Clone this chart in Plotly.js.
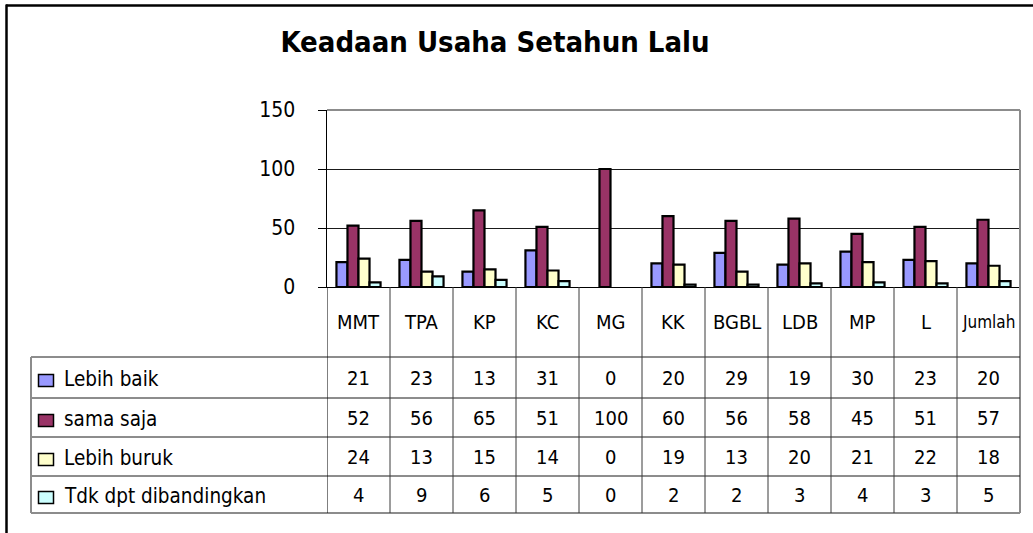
<!DOCTYPE html>
<html>
<head>
<meta charset="utf-8">
<script src="https://cdn.plot.ly/plotly-3.0.1.min.js"></script>
<style>
html,body{margin:0;padding:0;background:#fff;}
#chart{width:1033px;height:533px;}
</style>
</head>
<body>
<div id="chart"></div>
<script>
const categories = ['MMT','TPA','KP','KC','MG','KK','BGBL','LDB','MP','L','Jumlah'];
const lebihBaik = [21,23,13,31,0,20,29,19,30,23,20];
const samaSaja = [52,56,65,51,100,60,56,58,45,51,57];
const lebihBuruk = [24,13,15,14,0,19,13,20,21,22,18];
const tdkDpt = [4,9,6,5,0,2,2,3,4,3,5];
const seriesNames = ['Lebih baik','sama saja','Lebih buruk','Tdk dpt dibandingkan'];
const seriesValues = [lebihBaik, samaSaja, lebihBuruk, tdkDpt];
const colors = ['#9999FF','#993366','#FFFFCC','#CCFFFF'];
const yTickVals = [0,50,100,150];
const titleText = 'Keadaan Usaha Setahun Lalu';

const W = 1033, H = 533;
const FONT = '"DejaVu Sans Condensed", "DejaVu Sans", sans-serif';
const px = v => v / W;
const py = v => 1 - v / H;

const plotL = 327, plotR = 1020, plotT = 110, plotB = 287;
const tableB = 513, legendL = 31;
const rowLines = [357, 398, 437, 476];
const rowCenters = [377.5, 417.5, 456.5, 494.5];
const headerCenter = 322;

const traces = seriesValues.map((vals, k) => ({
  type: 'bar',
  x: categories,
  y: vals,
  name: seriesNames[k],
  marker: {color: colors[k], line: {color: '#000', width: vals.map(v => v === 0 ? 0 : 2.2)}},
  hoverinfo: 'x+y+name'
}));

const shapes = [];
const annotations = [];

// outer frame (top and left edges visible)
shapes.push({type:'line', xref:'paper', yref:'paper', x0:px(6), x1:px(1040), y0:py(5.5), y1:py(5.5), line:{color:'#000', width:2.5}});
shapes.push({type:'line', xref:'paper', yref:'paper', x0:px(6.5), x1:px(6.5), y0:py(4.5), y1:py(540), line:{color:'#000', width:2.5}});

// plot area gray top and right border
shapes.push({type:'line', xref:'paper', yref:'paper', x0:px(plotL), x1:px(plotR), y0:py(plotT), y1:py(plotT), line:{color:'#8c8c8c', width:2}, layer:'above'});
shapes.push({type:'line', xref:'paper', yref:'paper', x0:px(plotR), x1:px(plotR), y0:py(plotT), y1:py(tableB), line:{color:'#8c8c8c', width:2}, layer:'above'});

// table horizontal lines
rowLines.forEach(y => {
  shapes.push({type:'line', xref:'paper', yref:'paper', x0:px(legendL), x1:px(plotR), y0:py(y), y1:py(y), line:{color:'#1a1a1a', width:1}});
});
// table bottom and left borders
shapes.push({type:'line', xref:'paper', yref:'paper', x0:px(legendL), x1:px(plotR), y0:py(tableB), y1:py(tableB), line:{color:'#8c8c8c', width:2}});
shapes.push({type:'line', xref:'paper', yref:'paper', x0:px(legendL), x1:px(legendL), y0:py(rowLines[0]), y1:py(tableB), line:{color:'#8c8c8c', width:2}});

// column separators
for (let i = 0; i < categories.length; i++) {
  shapes.push({type:'line', xref:'x', yref:'paper', x0:i-0.5, x1:i-0.5, y0:py(plotB), y1:py(tableB),
    line:{color: i === 0 ? '#000' : '#3a3a3a', width:1}});
}

// header labels & values
categories.forEach((c, i) => {
  annotations.push({text:c, xref:'x', x:i, yref:'paper', y:py(headerCenter), showarrow:false,
    xanchor:'center', yanchor:'middle', font:{family:FONT, size: c.length > 4 ? 17 : 20, color:'#000'}});
  seriesValues.forEach((vals, k) => {
    annotations.push({text:String(vals[i]), xref:'x', x:i, yref:'paper', y:py(rowCenters[k]), showarrow:false,
      xanchor:'center', yanchor:'middle', font:{family:FONT, size:20, color:'#000'}});
  });
});

// legend keys and names
seriesNames.forEach((n, k) => {
  const cy = rowCenters[k] + 3;
  shapes.push({type:'rect', xref:'paper', yref:'paper', x0:px(38.5), x1:px(53.5), y0:py(cy-6), y1:py(cy+6),
    fillcolor:colors[k], line:{color:'#000', width:1.5}});
  annotations.push({text:n, xref:'paper', x:px(62), yref:'paper', y:py(rowCenters[k]+1), showarrow:false,
    xanchor:'left', yanchor:'middle', font:{family:FONT, size:20.5, color:'#000'}});
});

const layout = {
  width: W, height: H,
  margin: {l:0, r:0, t:0, b:0, pad:0},
  paper_bgcolor: '#fff', plot_bgcolor: '#fff',
  showlegend: false,
  barmode: 'group', bargap: 0.3, bargroupgap: 0,
  title: {text: titleText, xref:'paper', yref:'paper', x: px(495), xanchor:'center', y: py(42), yanchor:'middle',
    font: {family: FONT, size: 29, color:'#000', weight: 'bold'}},
  xaxis: {
    domain: [px(plotL), px(plotR)],
    type: 'category', range: [-0.5, categories.length - 0.5],
    showticklabels: false, ticks: '', showgrid: false, zeroline: false,
    showline: true, linecolor: '#000', linewidth: 1, fixedrange: true
  },
  yaxis: {
    domain: [py(plotB), py(plotT)],
    range: [0, 150], tickvals: yTickVals, ticktext: yTickVals.map(String),
    ticks: 'outside', ticklen: 8, tickcolor: '#000', tickwidth: 1,
    ticklabelstandoff: 18,
    showgrid: true, gridcolor: '#1a1a1a', gridwidth: 1,
    zeroline: false, showline: true, linecolor: '#000', linewidth: 1.5,
    tickfont: {family: FONT, size: 21, color: '#000'}, fixedrange: true
  },
  shapes: shapes,
  annotations: annotations
};

Plotly.newPlot('chart', traces, layout, {displayModeBar: false, staticPlot: true});
</script>
</body>
</html>
